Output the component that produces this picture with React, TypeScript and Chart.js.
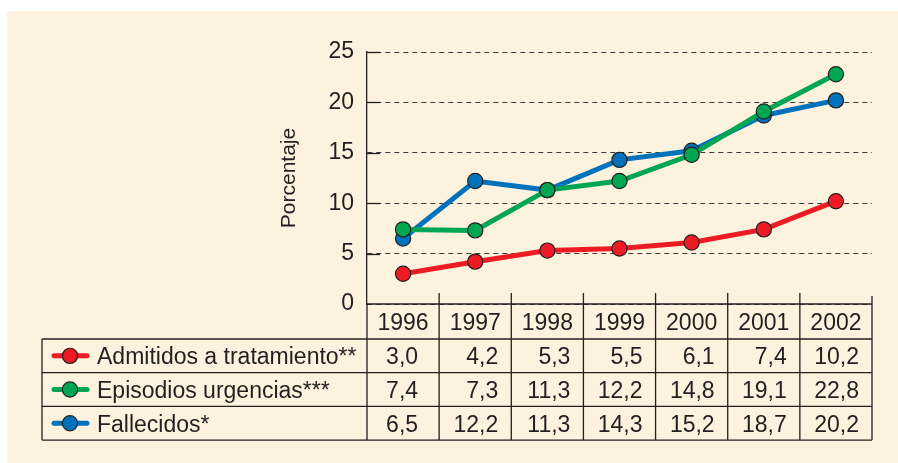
import React, { useEffect, useRef } from 'react';
import { Chart, registerables } from 'chart.js';

Chart.register(...registerables);

const years = ['1996', '1997', '1998', '1999', '2000', '2001', '2002'];
const admitidos = [3.0, 4.2, 5.3, 5.5, 6.1, 7.4, 10.2];
const episodios = [7.4, 7.3, 11.3, 12.2, 14.8, 19.1, 22.8];
const fallecidos = [6.5, 12.2, 11.3, 14.3, 15.2, 18.7, 20.2];
const seriesLabels = ['Admitidos a tratamiento**', 'Episodios urgencias***', 'Fallecidos*'];
const seriesColors = ['#ED1C24', '#00A651', '#0072BC'];
const yTitle = 'Porcentaje';
const yMin = 0;
const yMax = 25;
const yStep = 5;

const FONT = '"Liberation Sans", Arial, sans-serif';
const INK = '#231F20';
const BG = '#FDF2DE';

const seriesData = [admitidos, episodios, fallecidos];

const fmt = (v: number) => v.toFixed(1).replace('.', ',');

const tablePlugin = {
  id: 'dataTable',
  beforeDraw(chart: any) {
    const ctx = chart.ctx;
    ctx.save();
    ctx.fillStyle = '#ffffff';
    ctx.fillRect(0, 0, chart.width, chart.height);
    ctx.fillStyle = BG;
    ctx.fillRect(7, 11, chart.width - 7, chart.height - 11);
    ctx.restore();
  },
  afterDraw(chart: any) {
    const ctx = chart.ctx;
    const area = chart.chartArea;
    const xs = chart.scales.x;
    const ys = chart.scales.y;
    const n = years.length;
    const step = xs.getPixelForValue(1) - xs.getPixelForValue(0);
    const centers = years.map((_, i) => xs.getPixelForValue(i));
    const left = area.left;
    const right = area.right;
    const top = area.bottom;
    const headerH = 35;
    const rowH = 33.7;
    const tableLeft = 42;
    const rowTops = [top + headerH, top + headerH + rowH, top + headerH + 2 * rowH, top + headerH + 3 * rowH];
    const bottom = rowTops[3];

    ctx.save();
    ctx.strokeStyle = INK;
    ctx.lineWidth = 1.3;
    ctx.setLineDash([]);

    // y-axis inward ticks
    for (let v = yMin + yStep; v <= yMax; v += yStep) {
      const y = Math.round(ys.getPixelForValue(v)) + 0.5;
      ctx.beginPath();
      ctx.moveTo(left, y);
      ctx.lineTo(left + 13, y);
      ctx.stroke();
    }

    // x-axis line
    ctx.beginPath();
    ctx.moveTo(left, top);
    ctx.lineTo(right, top);
    ctx.stroke();

    // horizontal table lines
    rowTops.forEach((y) => {
      ctx.beginPath();
      ctx.moveTo(tableLeft, y);
      ctx.lineTo(right, y);
      ctx.stroke();
    });

    // vertical lines
    ctx.beginPath();
    ctx.moveTo(tableLeft, rowTops[0]);
    ctx.lineTo(tableLeft, bottom);
    ctx.moveTo(left, top);
    ctx.lineTo(left, bottom);
    for (let i = 1; i < n; i++) {
      const x = centers[i] - step / 2;
      ctx.moveTo(x, top - 11);
      ctx.lineTo(x, bottom);
    }
    ctx.moveTo(right, top - 8);
    ctx.lineTo(right, bottom);
    ctx.stroke();

    // header years
    ctx.fillStyle = INK;
    ctx.font = `23px ${FONT}`;
    ctx.textBaseline = 'alphabetic';
    ctx.textAlign = 'center';
    years.forEach((yr, i) => {
      ctx.fillText(yr, centers[i], top + headerH / 2 + 8.5);
    });

    // rows
    seriesData.forEach((data, r) => {
      const cy = rowTops[r] + rowH / 2;
      // marker
      ctx.strokeStyle = seriesColors[r];
      ctx.lineWidth = 5;
      ctx.lineCap = 'round';
      ctx.beginPath();
      ctx.moveTo(54, cy);
      ctx.lineTo(87, cy);
      ctx.stroke();
      ctx.beginPath();
      ctx.arc(70, cy, 7.6, 0, Math.PI * 2);
      ctx.fillStyle = seriesColors[r];
      ctx.fill();
      ctx.lineWidth = 1.2;
      ctx.strokeStyle = INK;
      ctx.stroke();

      ctx.fillStyle = INK;
      ctx.font = `23px ${FONT}`;
      ctx.textAlign = 'left';
      ctx.fillText(seriesLabels[r], 97, cy + 8.3);
      ctx.textAlign = 'right';
      data.forEach((v, i) => {
        ctx.fillText(fmt(v), centers[i] + (i === 0 ? 15 : 23), cy + 8.3);
      });
    });
    ctx.restore();
  },
};

export default function App() {
  const ref = useRef<HTMLCanvasElement | null>(null);

  useEffect(() => {
    if (!ref.current) return;
    const chart = new Chart(ref.current, {
      type: 'line',
      data: {
        labels: years,
        datasets: seriesData.map((d, i) => ({
          label: seriesLabels[i],
          data: d,
          borderColor: seriesColors[i],
          backgroundColor: seriesColors[i],
          borderWidth: 5,
          pointRadius: 7.6,
          pointBorderWidth: 1.2,
          pointBorderColor: INK,
          pointBackgroundColor: seriesColors[i],
          tension: 0,
          fill: false,
          order: i,
        })),
      },
      options: {
        responsive: false,
        animation: false,
        events: [],
        layout: { padding: { left: 277, right: 26, top: 52, bottom: 0 } },
        plugins: {
          legend: { display: false },
          tooltip: { enabled: false },
        },
        scales: {
          x: {
            type: 'category',
            offset: true,
            ticks: { display: false },
            grid: { display: false },
            border: { display: false },
            afterFit: (s: any) => {
              s.height = 463 - 304;
            },
          },
          y: {
            min: yMin,
            max: yMax,
            ticks: {
              stepSize: yStep,
              color: INK,
              padding: 13,
              font: { family: FONT, size: 23 },
            },
            grid: { color: '#3a3a3a', lineWidth: 1, drawTicks: false },
            border: { display: true, color: INK, width: 1.3, dash: [5, 4] },
            title: {
              display: true,
              text: yTitle,
              color: INK,
              padding: { top: 0, bottom: 0 },
              font: { family: FONT, size: 21 },
            },
            afterFit: (s: any) => {
              s.width = 90;
            },
          },
        },
      },
      plugins: [tablePlugin],
    } as any);
    return () => chart.destroy();
  }, []);

  return (
    <div style={{ position: 'absolute', left: 0, top: 0, width: 898, height: 463 }}>
      <canvas ref={ref} width={898} height={463} style={{ display: 'block' }} />
    </div>
  );
}
